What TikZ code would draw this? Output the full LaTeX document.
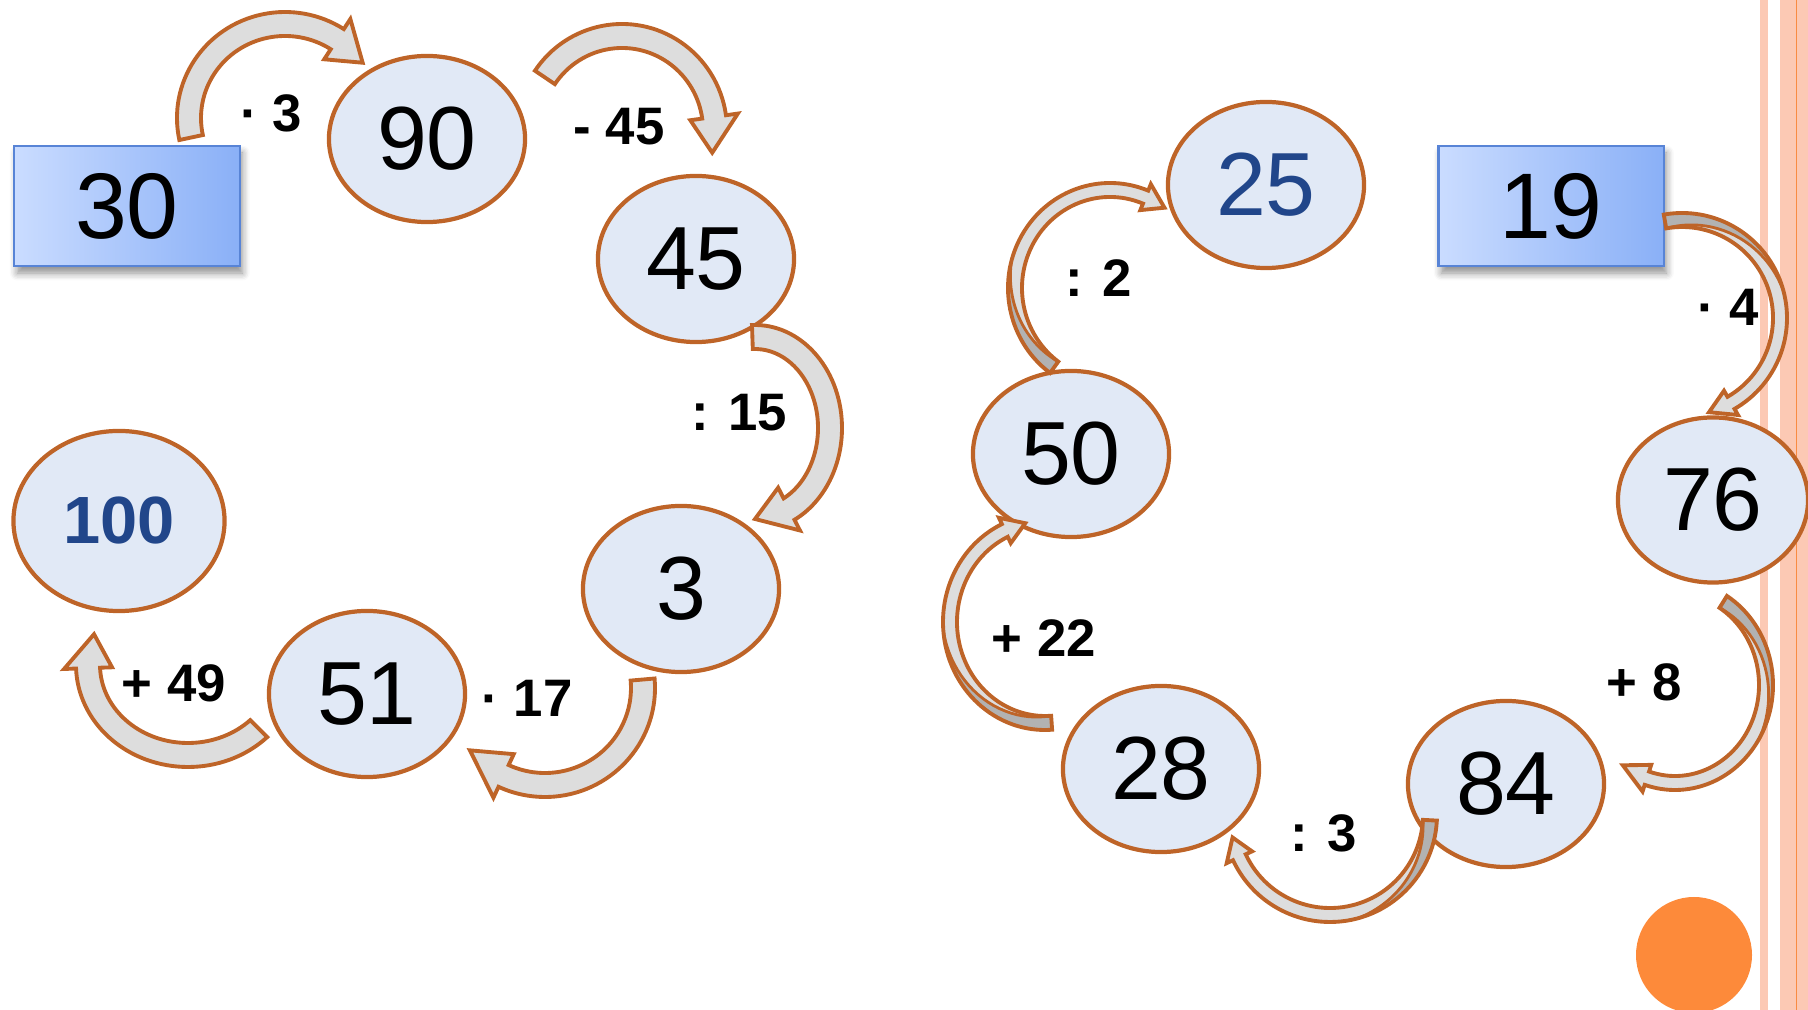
\documentclass[tikz,border=0pt]{standalone}
\usepackage{fontspec}
\setmainfont{Liberation Sans}
\usetikzlibrary{shapes.geometric,shadows.blur}

\definecolor{arrowbrown}{RGB}{190,100,40}
\definecolor{ovalfill}{RGB}{225,233,246}
\definecolor{arrowlight}{RGB}{221,221,221}
\definecolor{arrowdark}{RGB}{178,178,178}
\definecolor{boxlight}{RGB}{202,220,255}
\definecolor{boxdark}{RGB}{138,176,247}
\definecolor{boxedge}{RGB}{88,132,214}
\definecolor{darkblue}{RGB}{33,70,138}
\definecolor{stripe}{RGB}{252,201,180}
\definecolor{stripeline}{RGB}{249,140,66}
\definecolor{dotorange}{RGB}{253,138,58}

\tikzset
{
    numnode/.style = {ellipse, draw=arrowbrown, line width=1.2pt, fill=ovalfill, inner sep=0pt, minimum width=1.96cm, minimum height=1.66cm, font=\fontsize{25.5}{30}\selectfont},
    numbox/.style  = {rectangle, draw=boxedge, line width=0.6pt, left color=boxlight, right color=boxdark, inner sep=0pt, minimum width=2.25cm, minimum height=1.2cm, blur shadow={shadow xshift=0.8pt, shadow yshift=-2pt, shadow blur steps=6, shadow opacity=45}, font=\fontsize{26.5}{30}\selectfont},
    oplabel/.style = {inner sep=0pt, font=\bfseries\fontsize{15}{18}\selectfont},
    arrowbody/.style = {fill=arrowlight, draw=arrowbrown, line width=1.1pt}
}

% half width and head size of the bent arrows
\newcommand{\arrw}{12}
\newcommand{\arrh}{24}
% [options]{centre}{x radius}{y radius}{from angle}{to angle}{tip angle}
\newcommand{\bentarrow}[7][]{%
  \path[shift={(#2)}, arrowbody, #1] (#5:{#3+\arrw} and {#4+\arrw})
    arc[start angle=#5, end angle=#6, x radius={#3+\arrw}, y radius={#4+\arrw}]
    -- (#6:{#3+\arrh} and {#4+\arrh}) -- (#7:#3 and #4) -- (#6:{#3-\arrh} and {#4-\arrh})
    -- (#6:{#3-\arrw} and {#4-\arrw})
    arc[start angle=#6, end angle=#5, x radius={#3-\arrw}, y radius={#4-\arrw}] -- cycle;}
% same, with the darker twisted back part up to angle #7
\newcommand{\twistarrow}[7]{%
  \bentarrow[draw=none]{#1}{#2}{#3}{#4}{#5}{#6}
  \fill[shift={(#1)}, arrowdark] plot[domain=#4:#7, samples=25]
      (\x:{#2-\arrw+2*\arrw*(\x-(#4))/((#7)-(#4))} and {#3-\arrw+2*\arrw*(\x-(#4))/((#7)-(#4))})
    arc[start angle=#7, end angle=#4, x radius={#2+\arrw}, y radius={#3+\arrw}] -- cycle;
  \draw[shift={(#1)}, arrowbrown, line width=0.8pt] plot[domain=#4:#7, samples=25]
      (\x:{#2-\arrw+2*\arrw*(\x-(#4))/((#7)-(#4))} and {#3-\arrw+2*\arrw*(\x-(#4))/((#7)-(#4))});
  \bentarrow[fill=none]{#1}{#2}{#3}{#4}{#5}{#6}}

\begin{document}
\begin{tikzpicture}[x=0.01cm, y=0.01cm]
\useasboundingbox (0,0) rectangle (1808,-1010);

% border stripes and dot
\fill[stripe] (1760,0) rectangle (1768,-1010);
\fill[stripe] (1780,0) rectangle (1808,-1010);
\draw[stripeline, line width=0.4pt] (1796.5,0) -- (1796.5,-1010);
\fill[dotorange] (1694,-955) circle (58);

% first chain
\node [numbox]  at (127,-206) (n30) {30};
\node [numnode] at (427,-139) (n90) {90};
\node [numnode] at (696,-259) (n45) {45};
\node [numnode] at (681,-589) (n3) {3};
\node [numnode] at (367,-694) (n51) {51};
\node [numnode, minimum width=2.11cm, minimum height=1.8cm, text=darkblue, font=\bfseries\fontsize{19}{22}\selectfont] at (119,-521) (n100) {100};

% second chain
\node [numbox]  at (1551,-206) (n19) {19};
\node [numnode, minimum width=1.9cm, minimum height=1.65cm] at (1713,-500) (n76) {76};
\node [numnode] at (1506,-784) (n84) {84};
\node [numnode] at (1161,-769) (n28) {28};
\node [numnode] at (1071,-454) (n50) {50};
\node [numnode, text=darkblue] at (1266,-185) (n25) {25};

\coordinate (a30) at (285,-118);
\coordinate (a90) at (622,-130);
\coordinate (a45) at (755,-428);
\coordinate (a3) at (545,-688);
\coordinate (a51) at (188,-665);
\coordinate (a19) at (1682,-318);
\coordinate (a76) at (1675,-685);
\coordinate (a84) at (1330,-815);
\coordinate (a28) at (1045,-622);
\coordinate (a50) at (1110,-288);

\bentarrow{a30}{96}{94}{192}{57}{36}
\bentarrow{a90}{93}{94}{146}{8}{-14}
\bentarrow{a45}{75}{91}{92}{-63}{-90}
\bentarrow{a3}{98}{97}{5}{-115}{-140}
\bentarrow{a51}{100}{90}{-45}{-178}{-200}

\renewcommand{\arrw}{7}
\renewcommand{\arrh}{14}
\twistarrow{a19}{98}{98}{100}{-60}{-74}{15}
\twistarrow{a76}{91}{98}{58}{-108}{-125}{-30}
\twistarrow{a84}{100}{100}{-3}{-155}{-167}{-75}
\twistarrow{a28}{95}{101}{-86}{-245}{-258}{-175}
\twistarrow{a50}{95}{98}{234}{68}{55}{165}

% operations
\node [oplabel] at (271,-113) (o1) {· 3};
\node [oplabel] at (619,-127) (o2) {- 45};
\node [oplabel] at (739,-413) (o3) {: 15};
\node [oplabel] at (527,-698) (o4) {· 17};
\node [oplabel] at (174,-683) (o5) {+ 49};
\node [oplabel] at (1728,-307) (o6) {· 4};
\node [oplabel] at (1644,-682) (o7) {+ 8};
\node [oplabel] at (1324,-833) (o8) {: 3};
\node [oplabel] at (1044,-638) (o9) {+ 22};
\node [oplabel] at (1099,-278) (o10) {: 2};
\end{tikzpicture}
\end{document}
